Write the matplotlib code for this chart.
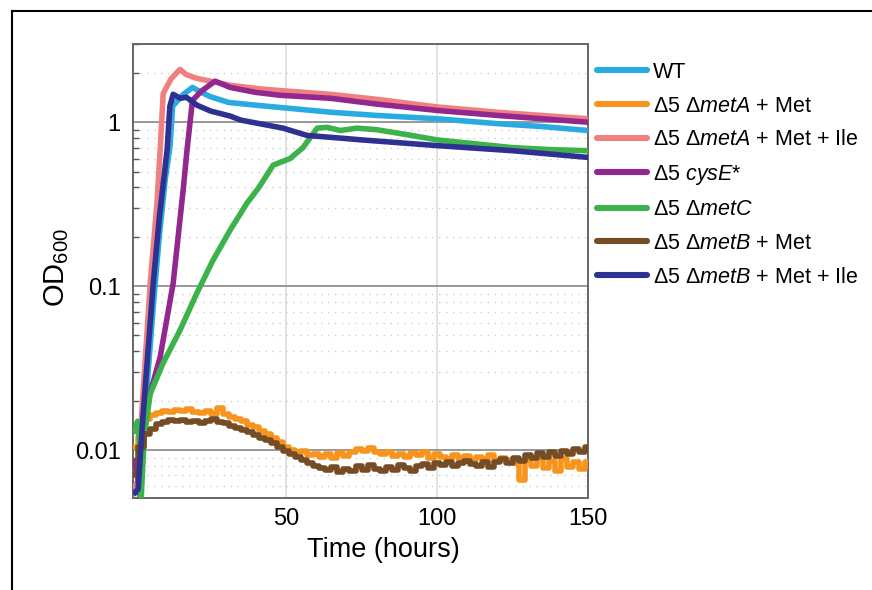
import matplotlib
matplotlib.use("Agg")
import matplotlib.pyplot as plt
from matplotlib.lines import Line2D
from matplotlib.ticker import LogLocator, FixedLocator, NullFormatter

plt.rcParams['font.family'] = ['Liberation Sans', 'DejaVu Sans']
plt.rcParams['mathtext.fontset'] = 'custom'
plt.rcParams['mathtext.rm'] = 'Liberation Sans'
plt.rcParams['mathtext.it'] = 'Liberation Sans:italic'

# ---------------- data ----------------
labels = ['WT',
          'Δ5 Δ$\\mathit{metA}$ + Met',
          'Δ5 Δ$\\mathit{metA}$ + Met + Ile',
          'Δ5 $\\mathit{cysE}$*',
          'Δ5 Δ$\\mathit{metC}$',
          'Δ5 Δ$\\mathit{metB}$ + Met',
          'Δ5 Δ$\\mathit{metB}$ + Met + Ile']
colors = ['#29ABE2', '#F7941D', '#F08080', '#92278F', '#3BB24A', '#754C24', '#2E3192']

wt_t = [0, 1, 2, 4, 6, 8, 10, 11.6, 12.4, 14, 16, 19, 22, 25, 31, 40, 48, 65, 80, 100, 120, 135, 150]
wt_v = [0.0060, 0.0065, 0.009, 0.025, 0.075, 0.20, 0.45, 0.72, 1.25, 1.35, 1.48, 1.63, 1.52, 1.43,
        1.32, 1.27, 1.23, 1.15, 1.10, 1.05, 0.98, 0.94, 0.89]

pink_t = [0, 1, 2.3, 5, 7.3, 8.3, 9.3, 12, 14.9, 17, 20.5, 25, 31.5, 42.4, 48, 64.6, 80, 100, 120, 150]
pink_v = [0.0060, 0.0065, 0.018, 0.104, 0.33, 0.68, 1.50, 1.85, 2.10, 1.95, 1.85, 1.78, 1.68, 1.59,
          1.56, 1.48, 1.38, 1.24, 1.15, 1.05]

purple_t = [0, 1.0, 1.8, 2.6, 6, 8.3, 12.6, 16, 17.2, 19, 22, 26.5, 31.5, 40, 48, 64.6, 80, 100, 120, 150]
purple_v = [0.0085, 0.0065, 0.005, 0.016, 0.026, 0.037, 0.104, 0.40, 0.68, 1.36, 1.55, 1.78, 1.63,
            1.52, 1.46, 1.40, 1.29, 1.18, 1.10, 1.00]

green_t = [0, 0.8, 1.5, 2, 3, 5, 9.3, 14.9, 20.5, 25.8, 31.5, 37, 41, 45.7, 51.3, 55.6, 60.3, 63.6,
           68, 73.5, 80, 90, 100, 112, 125, 138, 150]
green_v = [0.013, 0.015, 0.011, 0.005, 0.012, 0.022, 0.034, 0.054, 0.091, 0.144, 0.22, 0.32, 0.40,
           0.547, 0.60, 0.70, 0.92, 0.93, 0.89, 0.92, 0.90, 0.84, 0.78, 0.74, 0.70, 0.68, 0.67]

navy_t = [0, 1, 2.6, 6, 8, 10.6, 11.5, 12.6, 15, 17, 20.5, 25, 31.5, 35, 49, 57, 68, 75, 100, 125, 150]
navy_v = [0.0055, 0.0058, 0.016, 0.104, 0.26, 0.68, 1.25, 1.48, 1.40, 1.42, 1.27, 1.17, 1.09, 1.03,
          0.92, 0.83, 0.80, 0.78, 0.72, 0.67, 0.61]

noisy_t = list(range(0, 151, 2))
orange_v = [0.0105, 0.012, 0.0155, 0.0163, 0.0168, 0.0172, 0.0170, 0.0176, 0.0173, 0.0178,
            0.0171, 0.0168, 0.0174, 0.0166, 0.0180, 0.0165, 0.0160, 0.0155, 0.0150, 0.0142,
            0.0138, 0.0130, 0.0126, 0.0118, 0.0112, 0.0104, 0.0100, 0.0096, 0.0099, 0.0093,
            0.0095, 0.0091, 0.0094, 0.0090, 0.0096, 0.0092, 0.0098, 0.0102, 0.0099, 0.0103,
            0.0097, 0.0094, 0.0097, 0.0092, 0.0095, 0.0091, 0.0096, 0.0093, 0.0098, 0.0090,
            0.0094, 0.0091, 0.0088, 0.0093, 0.0089, 0.0092, 0.0087, 0.0091, 0.0088, 0.0093,
            0.0086, 0.0090, 0.0087, 0.0083, 0.0066, 0.0087, 0.0080, 0.0090, 0.0078, 0.0086,
            0.0074, 0.0088, 0.0079, 0.0085, 0.0077, 0.0084]
brown_v = [0.0070, 0.0105, 0.0125, 0.0135, 0.0145, 0.0148, 0.0152, 0.0150, 0.0153, 0.0149,
           0.0151, 0.0147, 0.0150, 0.0155, 0.0149, 0.0146, 0.0140, 0.0137, 0.0133, 0.0128,
           0.0124, 0.0119, 0.0115, 0.0110, 0.0104, 0.0099, 0.0095, 0.0091, 0.0087, 0.0083,
           0.0080, 0.0078, 0.0076, 0.0079, 0.0073, 0.0077, 0.0074, 0.0080, 0.0076, 0.0081,
           0.0077, 0.0074, 0.0079, 0.0076, 0.0081, 0.0078, 0.0075, 0.0080, 0.0082, 0.0078,
           0.0083, 0.0081, 0.0084, 0.0080, 0.0083, 0.0086, 0.0082, 0.0080, 0.0085, 0.0079,
           0.0084, 0.0088, 0.0083, 0.0090, 0.0086, 0.0093, 0.0089, 0.0096, 0.0091, 0.0098,
           0.0092, 0.0099, 0.0094, 0.0101, 0.0097, 0.0104]

xticks = [50, 100, 150]
yticks = [0.01, 0.1, 1]
yticklabels = ['0.01', '0.1', '1']

# ---------------- figure ----------------
fig = plt.figure(figsize=(8.72, 5.90), dpi=100)
ax = fig.add_axes([133/872, 1-498/590, (588-133)/872, (498-44)/590])

lw = 4.0
series = [
    (wt_t, wt_v, 'default'),
    (noisy_t, orange_v, 'steps-mid'),
    (pink_t, pink_v, 'default'),
    (purple_t, purple_v, 'default'),
    (green_t, green_v, 'default'),
    (noisy_t, brown_v, 'steps-mid'),
    (navy_t, navy_v, 'default'),
]
for (t, v, ds), c, lab in zip(series, colors, labels):
    ax.plot(t, v, color=c, lw=lw, drawstyle=ds, solid_joinstyle='round', label=lab, zorder=3)

ax.set_yscale('log')
ax.set_xlim(-0.7, 150)
ax.set_ylim(0.0051, 3.0)

ax.set_xticks(xticks)
ax.set_xticklabels([str(x) for x in xticks])
ax.yaxis.set_major_locator(FixedLocator(yticks))
ax.set_yticklabels(yticklabels)
ax.yaxis.set_minor_locator(LogLocator(base=10, subs=range(2, 10)))
ax.yaxis.set_minor_formatter(NullFormatter())

ax.tick_params(axis='x', which='both', length=0, labelsize=17, pad=7)
ax.tick_params(axis='y', which='major', length=0, labelsize=17, pad=9)
ax.tick_params(axis='y', which='minor', direction='in', length=4, width=1, color='#555555')

ax.grid(axis='x', which='major', color='#dddddd', lw=1.2, zorder=0)
ax.grid(axis='y', which='major', color='#888888', lw=1.2, zorder=1)
ax.grid(axis='y', which='minor', color='#cccccc', lw=1.0, linestyle=(0, (1, 4)), zorder=0)
ax.set_axisbelow(True)

for s in ax.spines.values():
    s.set_color('#666666')
    s.set_linewidth(1.4)

ax.set_xlabel('Time (hours)', fontsize=19.5)
ax.xaxis.set_label_coords((383.5-133)/455, -(550-498)/454, transform=ax.transAxes)
ax.xaxis.label.set_verticalalignment('center')
ax.set_ylabel('OD$_{\\mathregular{600}}$', fontsize=21)
ax.yaxis.set_label_coords(-(133-57)/455, 0.5 + (271-267)/454, transform=ax.transAxes)
ax.yaxis.label.set_verticalalignment('center')

leg = ax.legend(loc='upper left', bbox_to_anchor=(597/872, 1-62/590), bbox_transform=fig.transFigure,
                frameon=False, fontsize=15.5, handlelength=2.3, handletextpad=0.3,
                labelspacing=0.585, borderaxespad=0, borderpad=0)
for h in leg.get_lines():
    h.set_linewidth(4.4)
    h.set_solid_capstyle('round')

# outer frame lines (top and left)
fig.add_artist(Line2D([12/872, 1], [1-11/590, 1-11/590], color='black', lw=1.5, transform=fig.transFigure))
fig.add_artist(Line2D([12/872, 12/872], [0, 1-11/590], color='black', lw=1.5, transform=fig.transFigure))

fig.savefig('out.png', dpi=100)
